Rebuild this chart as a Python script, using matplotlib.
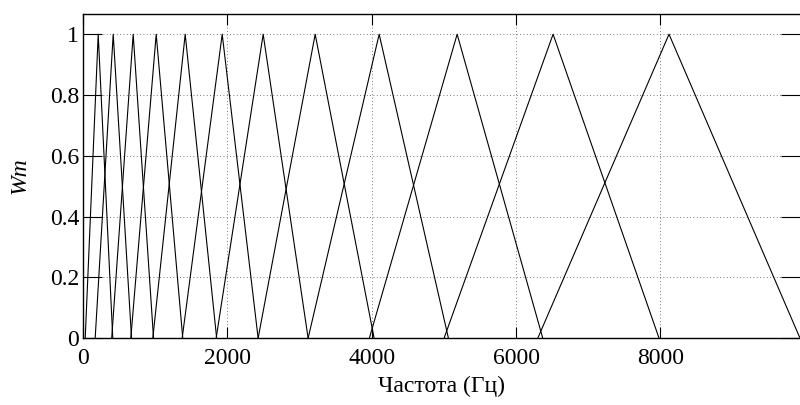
import matplotlib
matplotlib.use("Agg")
import matplotlib.pyplot as plt

plt.rcParams['font.family'] = ['Liberation Serif', 'DejaVu Serif']

# triangular filters (Hz): start, peak, end
starts = [28, 166, 395, 660, 965, 1372, 1843, 2425, 3118, 3967, 5003, 6302]
peaks = [208, 416, 693, 1012, 1414, 1927, 2495, 3216, 4103, 5184, 6514, 8121]
ends = [410, 670, 975, 1380, 1850, 2425, 3118, 4033, 5063, 6371, 7983, 9937]

xticks = [0, 2000, 4000, 6000, 8000]
yticks = [0, 0.2, 0.4, 0.6, 0.8, 1]
ytick_labels = ['0', '0.2', '0.4', '0.6', '0.8', '1']

fig = plt.figure(figsize=(8, 4.05), dpi=100)
ax = fig.add_axes([0.104, 0.165, 0.896, 0.8])

for s, p, e in zip(starts, peaks, ends):
    ax.plot([s, p, e], [0, 1, 0], color='black', linewidth=0.8)

ax.set_xlim(0, 9937)
ax.set_ylim(0, 1.066)
ax.set_xticks(xticks)
ax.set_xticklabels([str(t) for t in xticks])
ax.set_yticks(yticks)
ax.set_yticklabels(ytick_labels)

ax.grid(True, linestyle=(0, (1, 3)), color='black', linewidth=0.6, alpha=0.7)
ax.tick_params(axis='x', direction='in', length=8, width=0.8, top=True,
               labelsize=17, pad=7)
ax.tick_params(axis='y', direction='in', length=14, width=0.8, right=True,
               labelsize=17, pad=3)
for sp in ['left', 'bottom', 'top']:
    ax.spines[sp].set_linewidth(1.0)
ax.spines['right'].set_visible(False)

ax.set_xlabel('Частота (Гц)', fontsize=17, labelpad=5)
ax.set_ylabel('Wm', fontsize=17, style='italic', labelpad=14)

fig.savefig('out.png', dpi=100)
